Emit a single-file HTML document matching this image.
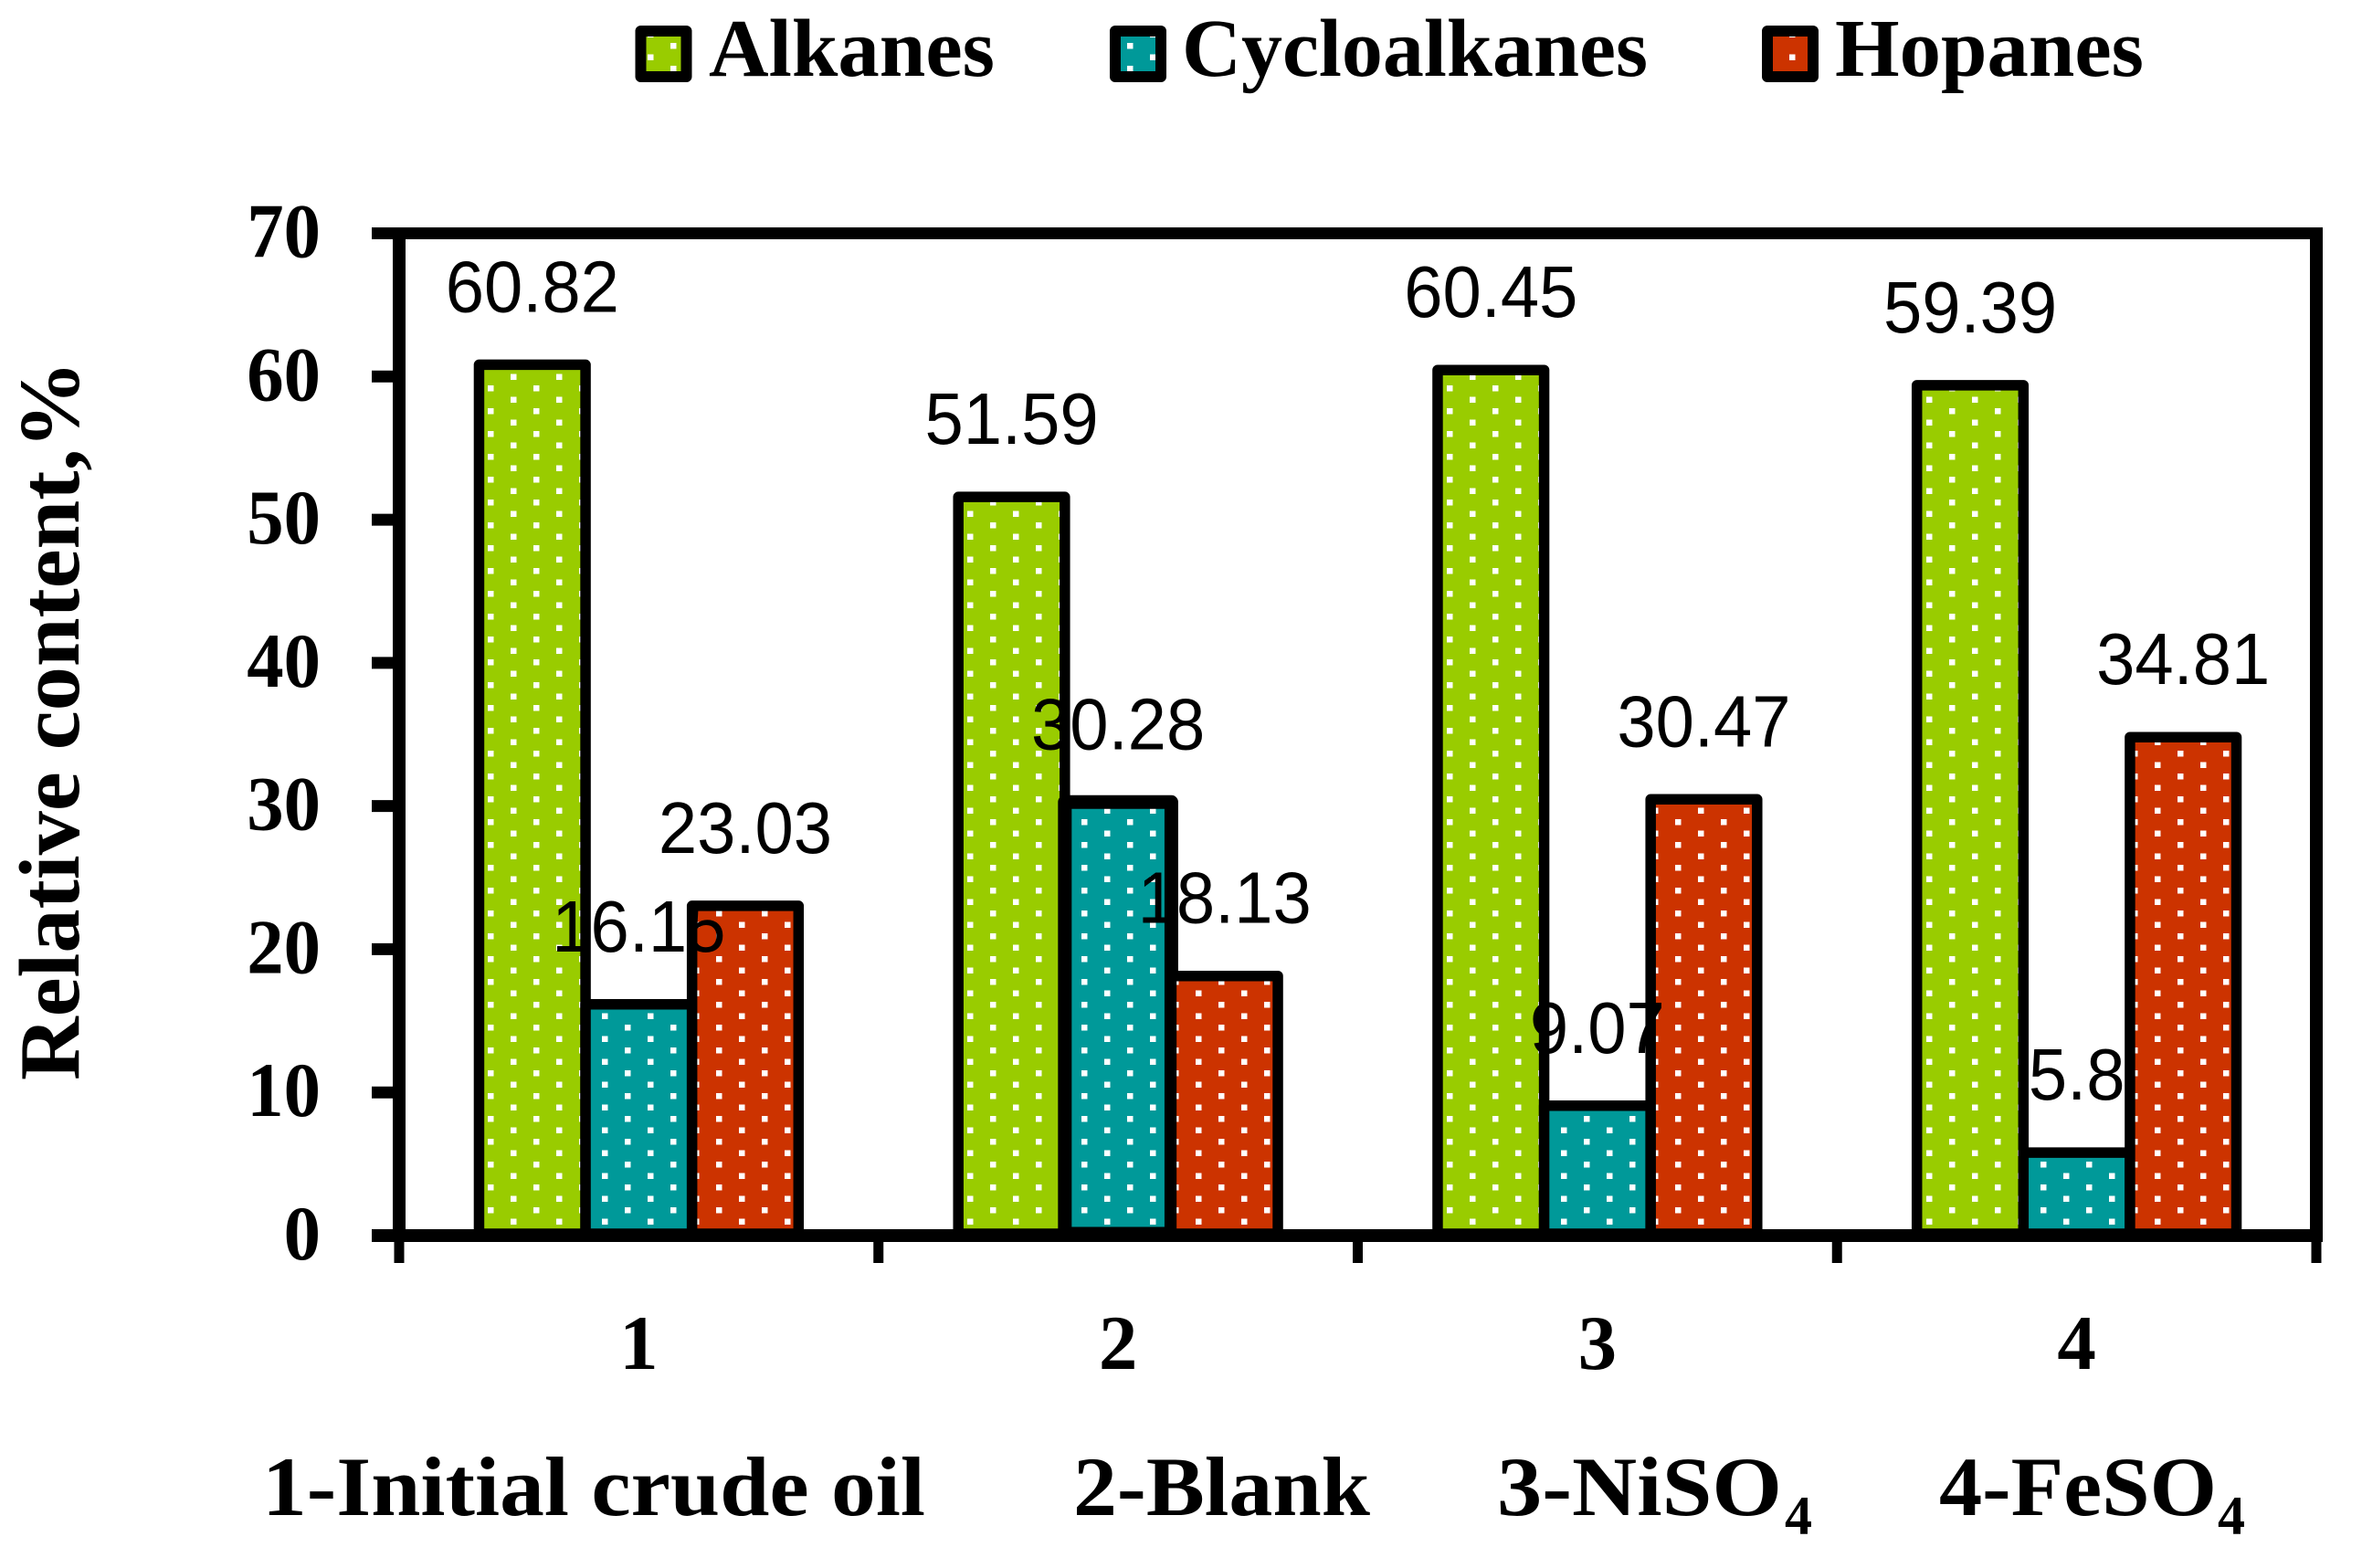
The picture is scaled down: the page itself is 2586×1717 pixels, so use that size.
<!DOCTYPE html>
<html lang="en">
<head>
<meta charset="utf-8">
<title>Relative content of alkanes, cycloalkanes and hopanes</title>
<style>
html,body{margin:0;padding:0;background:#fff;width:2586px;height:1717px;overflow:hidden}
svg{display:block}
.serif{font-family:"Liberation Serif",serif;font-weight:bold;fill:#000}
.val{font-family:"Liberation Sans",sans-serif;font-size:80px;fill:#000;text-anchor:middle}
</style>
</head>
<body>
<svg id="chart" xmlns="http://www.w3.org/2000/svg" width="2586" height="1717" viewBox="0 0 2586 1717">
  <defs>
    <pattern id="dots-green" patternUnits="userSpaceOnUse" width="50" height="25">
      <rect width="50" height="25" fill="#99cc00"/>
      <rect x="9" y="9.5" width="6.5" height="6.5" fill="#fff"/>
      <rect x="34" y="-3" width="6.5" height="6.5" fill="#fff"/>
      <rect x="34" y="22" width="6.5" height="6.5" fill="#fff"/>
    </pattern>
    <pattern id="dots-teal" patternUnits="userSpaceOnUse" width="50" height="25">
      <rect width="50" height="25" fill="#009999"/>
      <rect x="9" y="9.5" width="6.5" height="6.5" fill="#fff"/>
      <rect x="34" y="-3" width="6.5" height="6.5" fill="#fff"/>
      <rect x="34" y="22" width="6.5" height="6.5" fill="#fff"/>
    </pattern>
    <pattern id="dots-red" patternUnits="userSpaceOnUse" width="50" height="25">
      <rect width="50" height="25" fill="#cc3300"/>
      <rect x="9" y="9.5" width="6.5" height="6.5" fill="#fff"/>
      <rect x="34" y="-3" width="6.5" height="6.5" fill="#fff"/>
      <rect x="34" y="22" width="6.5" height="6.5" fill="#fff"/>
    </pattern>
  </defs>

  <g id="legend">
    <g>
      <rect x="701.5" y="34" width="50" height="50" fill="url(#dots-green)" stroke="#000" stroke-width="12" stroke-linejoin="round"/>
      <text class="serif" x="776" y="83" font-size="90" textLength="313" lengthAdjust="spacingAndGlyphs">Alkanes</text>
    </g>
    <g>
      <rect x="1221" y="34" width="50" height="50" fill="url(#dots-teal)" stroke="#000" stroke-width="12" stroke-linejoin="round"/>
      <text class="serif" x="1294" y="83" font-size="90" textLength="510" lengthAdjust="spacingAndGlyphs">Cycloalkanes</text>
    </g>
    <g>
      <rect x="1935" y="34" width="50" height="50" fill="url(#dots-red)" stroke="#000" stroke-width="12" stroke-linejoin="round"/>
      <text class="serif" x="2009" y="83" font-size="90" textLength="338" lengthAdjust="spacingAndGlyphs">Hopanes</text>
    </g>
  </g>

  <g id="bars"></g>
  <g id="axes"></g>
  <g id="values"></g>

  <text class="serif" transform="translate(86,1183) rotate(-90)" font-size="94" textLength="788" lengthAdjust="spacingAndGlyphs">Relative content,%</text>

  <g>
    <text class="serif" x="287" y="1659" font-size="92" textLength="726" lengthAdjust="spacingAndGlyphs">1-Initial crude oil</text>
    <text class="serif" x="1175" y="1659" font-size="92" textLength="325" lengthAdjust="spacingAndGlyphs">2-Blank</text>
    <text class="serif" x="1639" y="1659" font-size="92" textLength="312" lengthAdjust="spacingAndGlyphs">3-NiSO</text>
    <text class="serif" x="1954" y="1680" font-size="60">4</text>
    <text class="serif" x="2123" y="1659" font-size="92" textLength="304" lengthAdjust="spacingAndGlyphs">4-FeSO</text>
    <text class="serif" x="2428" y="1680" font-size="60">4</text>
  </g>
</svg>

<script>
const categories = ["1", "2", "3", "4"];
const seriesNames = ["alkanes", "cycloalkanes", "hopanes"];
const alkanes = [60.82, 51.59, 60.45, 59.39];
const cycloalkanes = [16.15, 30.28, 9.07, 5.8];
const hopanes = [23.03, 18.13, 30.47, 34.81];
const yTicks = [0, 10, 20, 30, 40, 50, 60, 70];

const NS = "http://www.w3.org/2000/svg";
const Y0 = 1353, Y70 = 255.5, XL = 437, XR = 2536;
const series = [alkanes, cycloalkanes, hopanes];
const fills = ["url(#dots-green)", "url(#dots-teal)", "url(#dots-red)"];
const yMax = yTicks[yTicks.length - 1];

function yScale(v) { return Y0 - (v / yMax) * (Y0 - Y70); }
function bandStep() { return (XR - XL) / categories.length; }
function groupCenter(i) { return XL + (i + 0.5) * bandStep(); }
function barWidth() { return bandStep() / (series.length + 1.5); }
function barCenter(i, s) { return groupCenter(i) + (s - (series.length - 1) / 2) * barWidth(); }

function make(tag, attrs) {
  const el = document.createElementNS(NS, tag);
  for (const k in attrs) el.setAttribute(k, attrs[k]);
  return el;
}

const barsLayer = document.getElementById("bars");
const axesLayer = document.getElementById("axes");
const valuesLayer = document.getElementById("values");

series.forEach(function (vals, s) {
  vals.forEach(function (v, i) {
    const w = barWidth();
    const top = yScale(v);
    const bar = make("rect", {
      x: barCenter(i, s) - w / 2,
      y: top,
      width: w,
      height: Y0 - 2 - top,
      fill: fills[s],
      stroke: "#000",
      "stroke-width": (s === 1 && i === 1) ? 15 : 11.5,
      "stroke-linejoin": "round"
    });
    
    
    barsLayer.appendChild(bar);

    const label = make("text", {
      class: "val",
      transform: "translate(" + barCenter(i, s) + "," + (top - 58) + ") scale(0.95,1)"
    });
    label.textContent = String(v);
    
    
    valuesLayer.appendChild(label);
  });
});

function axisLine(x1, y1, x2, y2, w) {
  return make("line", { x1: x1, y1: y1, x2: x2, y2: y2, stroke: "#000", "stroke-width": w });
}

const leftAxis = axisLine(XL, Y70 - 6.5, XL, Y0 + 7, 14);


axesLayer.appendChild(leftAxis);

const rightBorder = axisLine(XR, Y70 - 6.5, XR, Y0 + 7, 14);


axesLayer.appendChild(rightBorder);

const topBorder = axisLine(XL - 30, Y70, XR + 7, Y70, 13);


axesLayer.appendChild(topBorder);

const baseLine = axisLine(XL - 30, Y0, XR + 7, Y0, 14);


axesLayer.appendChild(baseLine);

yTicks.forEach(function (t) {
  const y = yScale(t);
  const tick = axisLine(XL - 30, y, XL, y, 13);
  
  
  axesLayer.appendChild(tick);

  const lab = make("text", {
    class: "serif",
    "font-size": 85,
    "text-anchor": "end",
    transform: "translate(351," + (y + 26) + ") scale(0.95,1)"
  });
  lab.textContent = String(t);
  
  
  axesLayer.appendChild(lab);
});

for (let i = 0; i <= categories.length; i++) {
  const x = XL + i * bandStep();
  const tick = axisLine(x, Y0, x, Y0 + 30, 11);
  
  
  axesLayer.appendChild(tick);
}

categories.forEach(function (c, i) {
  const lab = make("text", {
    class: "serif",
    "font-size": 85,
    "text-anchor": "middle",
    x: groupCenter(i),
    y: 1499
  });
  lab.textContent = c;
  
  
  axesLayer.appendChild(lab);
});
</script>
</body>
</html>
